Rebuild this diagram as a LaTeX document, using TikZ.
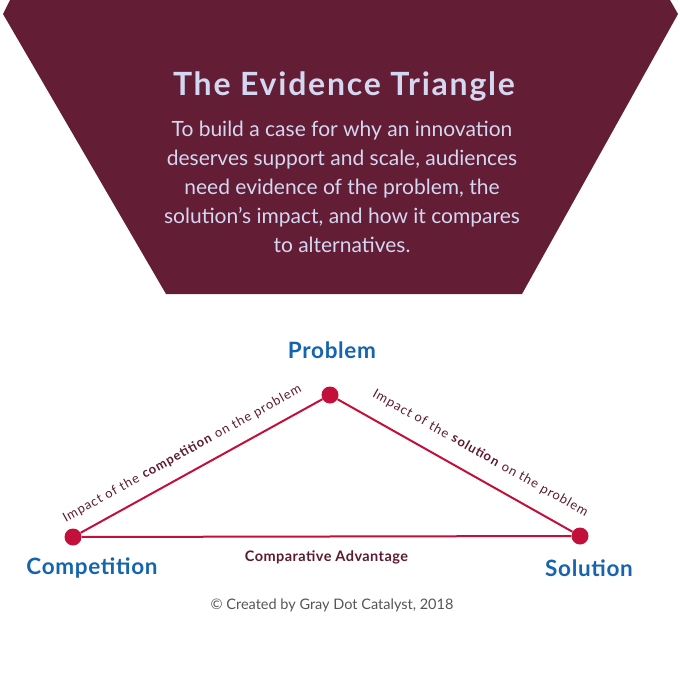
\documentclass[tikz,border=0pt]{standalone}
\usepackage{fontspec}
\setmainfont{Lato}
\newfontfamily\titlefont[LetterSpace=5.5]{Lato}
\newfontfamily\spacedfont[LetterSpace=7]{Lato}
\newfontfamily\vertexfont[LetterSpace=3]{Lato}
\definecolor{bgmaroon}{HTML}{631D34}
\definecolor{lavender}{HTML}{D4D7F2}
\definecolor{crimson}{HTML}{C2103B}
\definecolor{vblue}{HTML}{1664AE}
\definecolor{labmaroon}{HTML}{5E1A32}
\definecolor{copygray}{HTML}{555555}
\tikzset{
  titletext/.style={text=lavender, font=\titlefont\bfseries\fontsize{32}{36}\selectfont, inner sep=0pt},
  bodytext/.style={text=lavender, align=center, font=\fontsize{21}{29}\selectfont, inner sep=0pt},
  dotnode/.style={circle, fill=crimson, minimum size=17pt, inner sep=0pt},
  edgeline/.style={draw=crimson, line width=2pt},
  edgelabel/.style={text=labmaroon, font=\spacedfont\fontsize{13}{15}\selectfont, inner sep=0pt},
  vertexlabel/.style={text=vblue, font=\vertexfont\bfseries\fontsize{22.5}{26}\selectfont, inner sep=0pt},
  baselabel/.style={text=labmaroon, font=\vertexfont\bfseries\fontsize{14.5}{16}\selectfont, inner sep=0pt},
  copytext/.style={text=copygray, font=\fontsize{14.5}{16}\selectfont, inner sep=0pt}
}
\begin{document}
\begin{tikzpicture}[x=1pt,y=-1pt]
\useasboundingbox (0,0) rectangle (680,680);
\fill[bgmaroon] (10,0) -- (670,0) -- (678,14) -- (522,294) -- (166,294) -- (3,14) -- cycle;
\node[titletext] (title) at (344,86) {The Evidence Triangle};
\node[bodytext] (body) at (342,187) {To build a case for why an innovation\\deserves support and scale, audiences\\need evidence of the problem, the\\solution’s impact, and how it compares\\to alternatives.};
\node[dotnode] (p) at (330,395) {};
\node[dotnode] (c) at (73,537) {};
\node[dotnode] (s) at (580,536) {};
\draw[edgeline] (c) -- node[edgelabel, pos=0.46, sloped, above, yshift=13pt] (lc) {Impact of the \textbf{competition} on the problem} (p);
\draw[edgeline] (p) -- node[edgelabel, pos=0.56, sloped, above, yshift=16pt] (ls) {Impact of the \textbf{solution} on the problem} (s);
\draw[edgeline] (c) -- node[baselabel, below, yshift=-13pt] (lb) {Comparative Advantage} (s);
\node[vertexlabel] (tp) at (332,350) {Problem};
\node[vertexlabel] (tc) at (92,568) {Competition};
\node[vertexlabel] (ts) at (589,568) {Solution};
\node[copytext] (copy) at (332,605) {© Created by Gray Dot Catalyst, 2018};
\end{tikzpicture}
\end{document}
